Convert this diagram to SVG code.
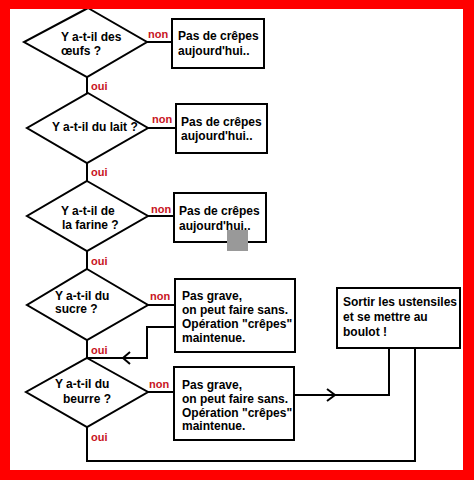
<svg xmlns="http://www.w3.org/2000/svg" width="474" height="480" viewBox="0 0 474 480">
<style>
.shape{fill:#fff;stroke:#000;stroke-width:2}
.line{fill:none;stroke:#000;stroke-width:2}
.t{font-family:"Liberation Sans",Arial,sans-serif;font-weight:bold;font-size:12px;fill:#000}
.lbl{font-family:"Liberation Sans",Arial,sans-serif;font-weight:bold;font-size:11px;fill:#c8141e}
</style>
<rect x="0" y="0" width="474" height="480" fill="#fff"/>
<g id="connectors">
<polyline class="line" points="87,77 87,93"/>
<polyline class="line" points="87,163 87,181"/>
<polyline class="line" points="87,251 87,269"/>
<polyline class="line" points="87,340 87,358"/>
<polyline class="line" points="87,427 87,461 415,461 415,348"/>
<polyline class="line" points="147,42 172,42"/>
<polyline class="line" points="148,128 176,128"/>
<polyline class="line" points="148,216 174,216"/>
<polyline class="line" points="148,305 175,305"/>
<polyline class="line" points="148,392 174,392"/>
<polyline class="line" points="175,327 147,327 147,358 87,358"/>
<polyline class="line" points="130,352 123,358 130,364"/>
<polyline class="line" points="295,395 389,395 389,348"/>
<polyline class="line" points="327,389 335,395 327,401"/>
<text class="lbl" x="91" y="90">oui</text>
<text class="lbl" x="91" y="176">oui</text>
<text class="lbl" x="91" y="265">oui</text>
<text class="lbl" x="91" y="354">oui</text>
<text class="lbl" x="91" y="441">oui</text>
<text class="lbl" x="148" y="38">non</text>
<text class="lbl" x="152" y="123">non</text>
<text class="lbl" x="151" y="213">non</text>
<text class="lbl" x="150" y="300">non</text>
<text class="lbl" x="149" y="388">non</text>
</g>
<g id="d1"><polygon class="shape" points="88,8 147,42 87,77 24,42"/><text class="t" x="61" y="41">Y a-t-il des</text><text class="t" x="61" y="55">œufs ?</text></g>
<g id="d2"><polygon class="shape" points="88,93 148,128 87,163 27,128"/><text class="t" x="52" y="131">Y a-t-il du lait ?</text></g>
<g id="d3"><polygon class="shape" points="87,181 148,216 87,251 27,216"/><text class="t" x="61" y="215">Y a-t-il de</text><text class="t" x="62" y="229">la farine ?</text></g>
<g id="d4"><polygon class="shape" points="87,269 148,305 87,340 27,305"/><text class="t" x="55" y="300">Y a-t-il du</text><text class="t" x="55" y="313">sucre ?</text></g>
<g id="d5"><polygon class="shape" points="87,358 148,392 87,427 26,392"/><text class="t" x="55" y="388">Y a-t-il du</text><text class="t" x="63" y="403">beurre ?</text></g>
<g id="b1"><rect class="shape" x="172" y="19" width="92" height="49"/><text class="t" x="178" y="40">Pas de crêpes</text><text class="t" x="178" y="55">aujourd'hui..</text></g>
<g id="b2"><rect class="shape" x="176" y="104" width="91" height="49"/><text class="t" x="181" y="126">Pas de crêpes</text><text class="t" x="181" y="140">aujourd'hui..</text></g>
<g id="b3"><rect class="shape" x="174" y="193" width="92" height="49"/><text class="t" x="179" y="215">Pas de crêpes</text><text class="t" x="179" y="230">aujourd'hui..</text></g>
<rect x="227" y="230" width="21" height="21" fill="#999"/>
<g id="b4"><rect class="shape" x="175" y="279" width="120" height="73"/><text class="t" x="182" y="300">Pas grave,</text><text class="t" x="182" y="314">on peut faire sans.</text><text class="t" x="182" y="328">Opération "crêpes"</text><text class="t" x="182" y="342">maintenue.</text></g>
<g id="b5"><rect class="shape" x="174" y="367" width="120" height="73"/><text class="t" x="182" y="389">Pas grave,</text><text class="t" x="182" y="403">on peut faire sans.</text><text class="t" x="182" y="417">Opération "crêpes"</text><text class="t" x="182" y="430">maintenue.</text></g>
<g id="b6"><rect class="shape" x="337" y="288" width="123" height="60"/><text class="t" x="343" y="306">Sortir les ustensiles</text><text class="t" x="343" y="321">et se mettre au</text><text class="t" x="343" y="336">boulot !</text></g>
<path d="M0,0H474V480H0Z M10,9V470H463V9Z" fill="#f00" fill-rule="evenodd"/>
</svg>
